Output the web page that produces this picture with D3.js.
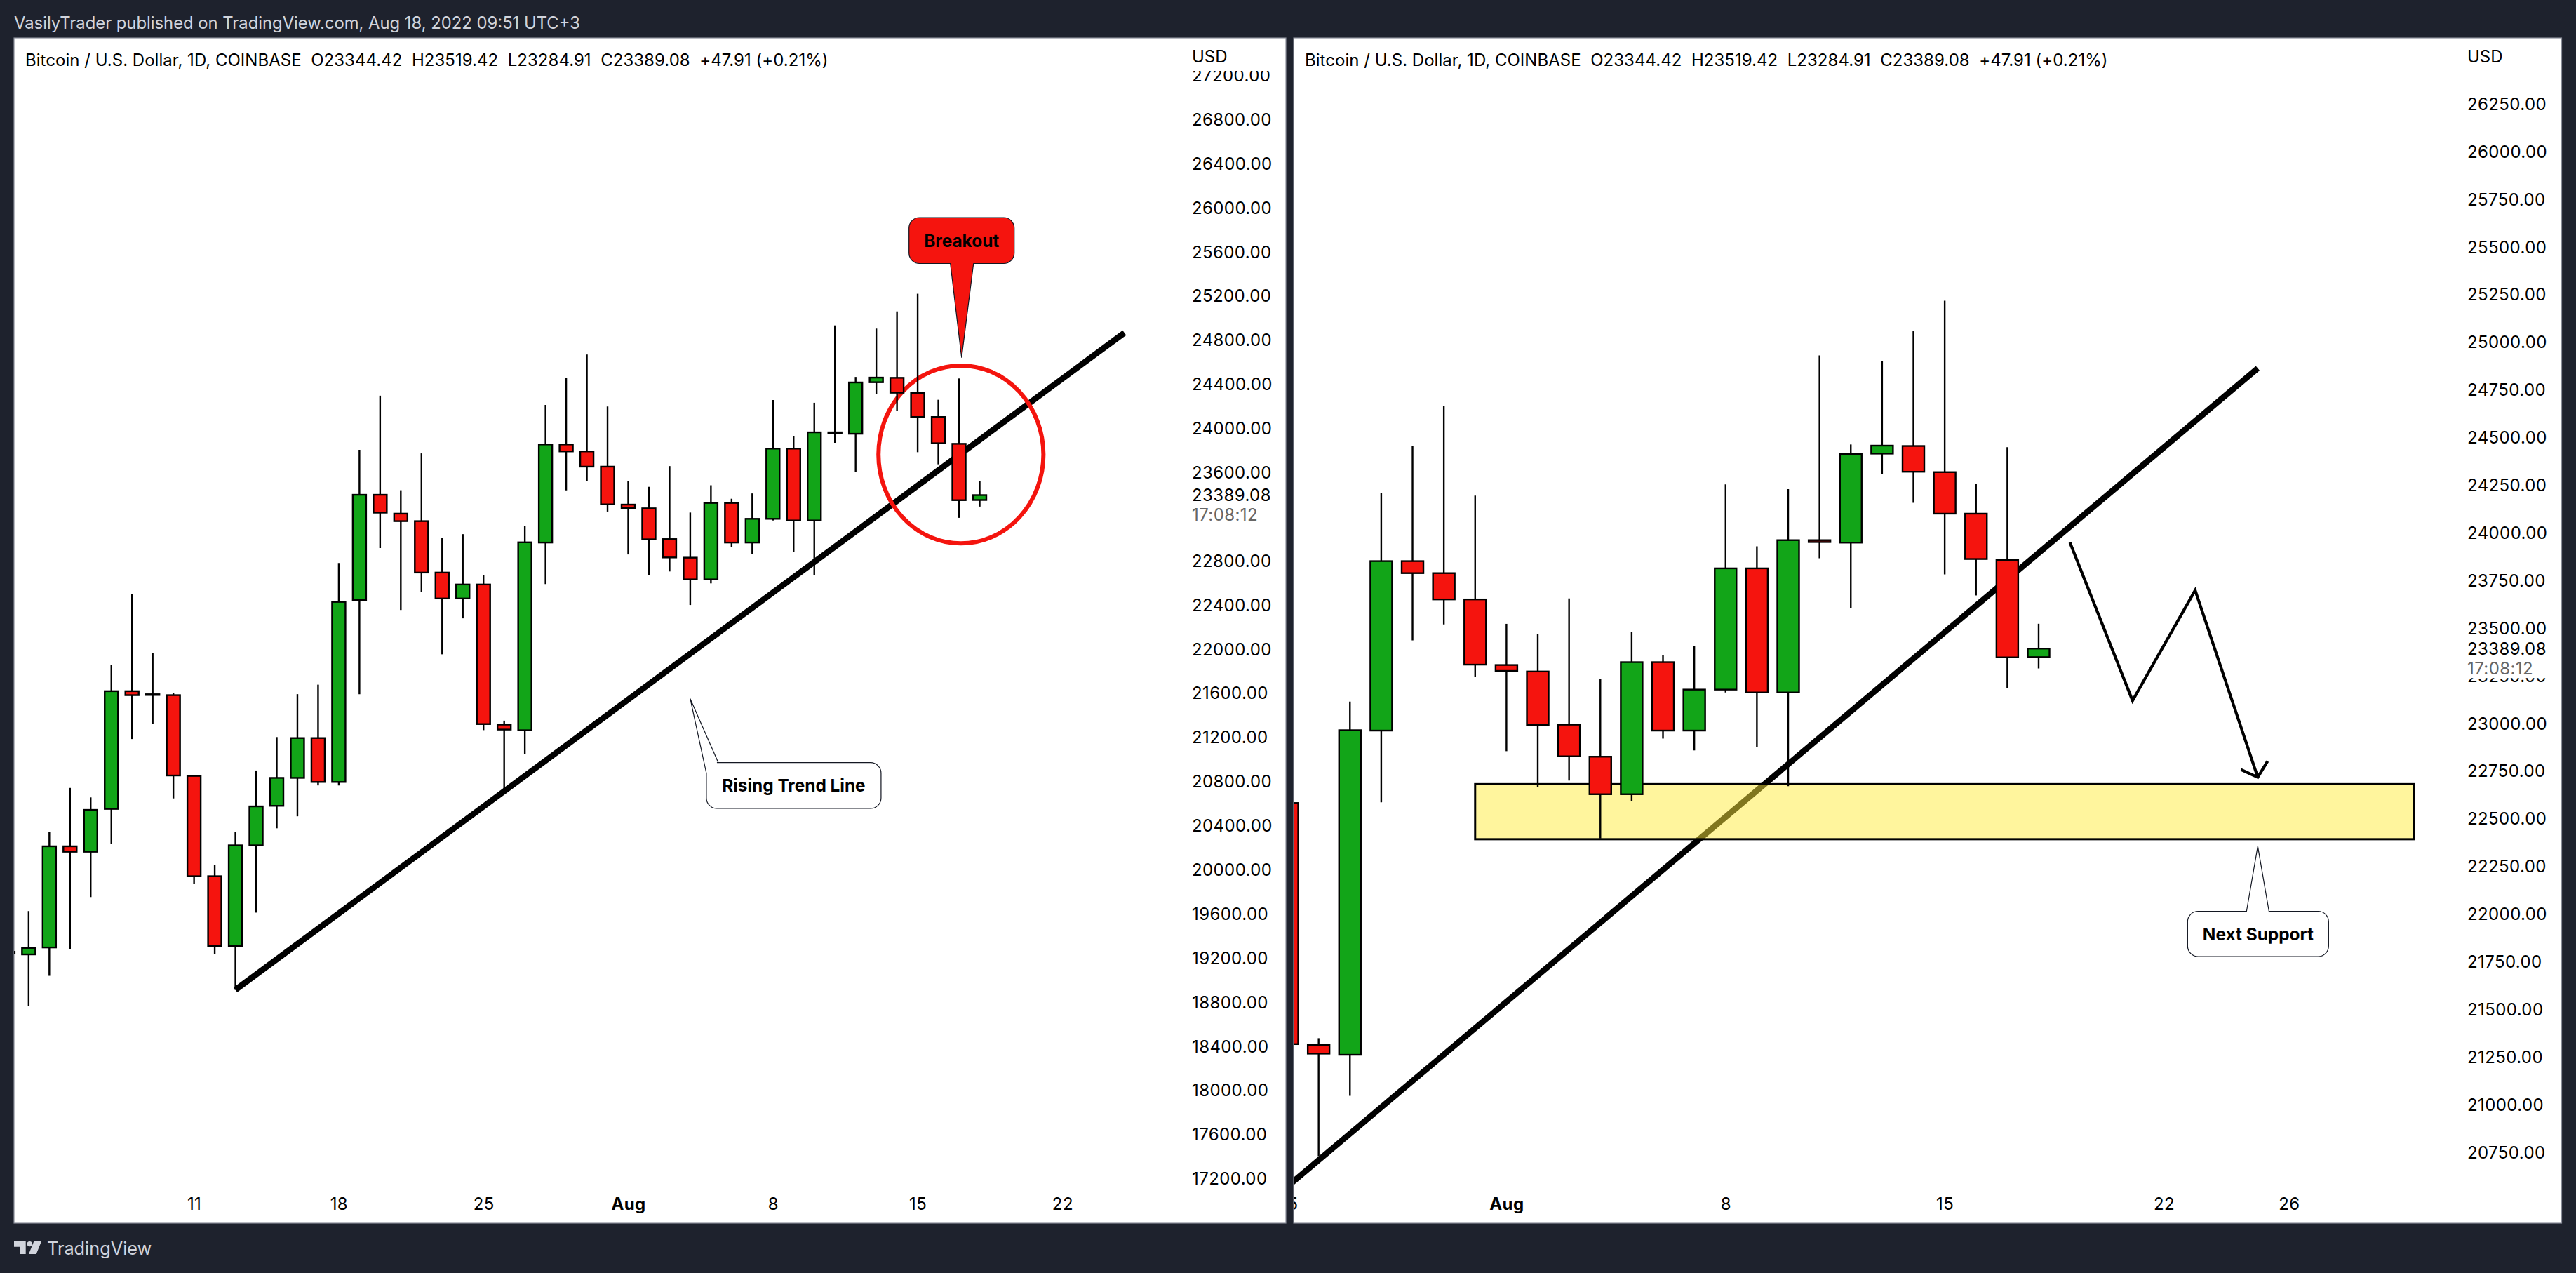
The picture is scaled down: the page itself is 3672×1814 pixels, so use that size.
<!DOCTYPE html>
<html lang="en-us">
    <head>
        <title>BTCUSD</title>
        <meta charset="UTF-8">
        <script src="https://d3js.org/d3.v7.min.js"></script>
        <style type="text/css">
            body { margin: 0; background: #1e222d; }
            svg { display: block; }
            text { font-family: Inter, "Noto Sans", sans-serif; }
            .axis .domain { display: none; }
            .axis text { font-size: 24px; fill: #000; font-family: Inter, sans-serif; letter-spacing: 0.4px; }
            .wick { stroke: #000; stroke-width: 2.4; }
            .body { stroke: #000; stroke-width: 2.4; }
        </style>
    </head>
    <body>
        <script>
            // daily bars
            var days = ["2022-07-02","2022-07-03","2022-07-04","2022-07-05","2022-07-06","2022-07-07","2022-07-08","2022-07-09","2022-07-10","2022-07-11","2022-07-12","2022-07-13","2022-07-14","2022-07-15","2022-07-16","2022-07-17","2022-07-18","2022-07-19","2022-07-20","2022-07-21","2022-07-22","2022-07-23","2022-07-24","2022-07-25","2022-07-26","2022-07-27","2022-07-28","2022-07-29","2022-07-30","2022-07-31","2022-08-01","2022-08-02","2022-08-03","2022-08-04","2022-08-05","2022-08-06","2022-08-07","2022-08-08","2022-08-09","2022-08-10","2022-08-11","2022-08-12","2022-08-13","2022-08-14","2022-08-15","2022-08-16","2022-08-17","2022-08-18"];
            var opens = [19250,19226,19289,20206,20157,20545,21612,21580,21576,20844,19935,19303,20215,20573,20826,21187,20789,22439,23392,23221,23153,22687,22452,22579,21309,21258,22959,23848,23785,23647,23303,23269,22990,22822,22625,23318,22959,23174,23810,23159,23958,23945,24412,24452,24315,24097,23854,23344.42];
            var highs = [19300,19619,20333,20735,20649,21851,22489,21960,21594,20848,20035,20333,20893,21196,21585,21671,22773,23800,24290,23433,23767,23004,23035,22665,21345,23111,24207,24450,24663,24192,23519,23464,23652,23231,23478,23356,23404,24251,23926,24226,24927,24460,24898,25054,25214,24253,24446,23519.42];
            var lows = [19000,18756,19032,19276,19746,20229,21178,21318,20640,19868,19230,18905,19605,20369,20478,20758,20758,21585,22909,22348,22511,21946,22272,21259,20726,21043,22583,23432,23516,23240,22851,22661,22697,22393,22589,22917,22855,23159,22872,22667,23863,23601,24304,24154,23778,23668,23183,23284.91];
            var closes = [19240,19285,20206,20157,20536,21612,21576,21584,20848,19935,19303,20215,20568,20826,21187,20789,22421,23392,23230,23153,22687,22452,22579,21314,21264,22961,23848,23785,23647,23305,23272,22988,22824,22625,23318,22959,23174,23810,23159,23958,23948,24410,24454,24317,24097,23859,23343,23389.08];

            // 23200 sits fully behind the last price plate, so it is left out
            var leftPriceTicks = d3.range(17200, 27201, 400).filter(function(v){ return v != 23200; });
            var rightPriceTicks = d3.range(20750, 26501, 250);
            var leftDateTicks = ["2022-07-11","2022-07-18","2022-07-25","2022-08-01","2022-08-08","2022-08-15","2022-08-22"];
            var rightDateTicks = ["2022-07-25","2022-08-01","2022-08-08","2022-08-15","2022-08-22","2022-08-26"];

            var lastPrice = "23389.08";
            var countdown = "17:08:12";
            var legendText = "Bitcoin / U.S. Dollar, 1D, COINBASE\u00a0\u00a0O23344.42\u00a0\u00a0H23519.42\u00a0\u00a0L23284.91\u00a0\u00a0C23389.08\u00a0\u00a0+47.91 (+0.21%)";

            // drawings, as [date, price]
            var trendLine = [["2022-07-13", 18905], ["2022-08-25T00:00", 24860]];
            var breakCircle = [["2022-08-13T02:30", 24563], ["2022-08-21T02:00", 22951]];
            var breakoutTip = ["2022-08-17T03:00", 24635];
            var risingTip = ["2022-08-04", 21543];
            var supportZone = [["2022-07-31", 22678], ["2022-08-30", 22389]];
            var pathDown = [["2022-08-19", 23946], ["2022-08-21", 23116], ["2022-08-23", 23695], ["2022-08-25", 22714]];
            var supportTip = ["2022-08-25", 22352];

            var parseDay = function(s){ return new Date(s.length > 10 ? s + "Z" : s + "T00:00Z"); };
            var bars = days.map(function(d, i){
                return {date: parseDay(d), o: opens[i], h: highs[i], l: lows[i], c: closes[i]};
            });

            var width = 3672, height = 1814;
            var svg = d3.select("body").append("svg").attr("width", width).attr("height", height);

            // header and footer on the dark frame
            svg.append("text").attr("x", 20).attr("y", 41)
                .attr("font-size", 23.8).attr("fill", "#d1d4dc")
                .text("VasilyTrader published on TradingView.com, Aug 18, 2022 09:51 UTC+3");

            var logo = svg.append("g").attr("fill", "#d1d4dc");
            logo.append("path").attr("d", "M20 1769H36.7V1787H28.3V1776.7H20Z");
            logo.append("circle").attr("cx", 42.3).attr("cy", 1772.6).attr("r", 3.7);
            logo.append("path").attr("d", "M48.3 1769H59L51.7 1787H41Z");
            logo.append("text").attr("x", 67).attr("y", 1788).attr("font-size", 25.3).text("TradingView");

            function callout(g, tip, box, base, label, fill) {
                // box is [x0, y0, x1, y1], base is where the pointer leaves the box outline
                var r = 15;
                var p = d3.path();
                p.moveTo(box[0] + r, box[1]);
                if (base.side == "top") {
                    p.lineTo(base.a, box[1]); p.lineTo(tip[0], tip[1]); p.lineTo(base.b, box[1]);
                }
                p.lineTo(box[2] - r, box[1]);
                p.arcTo(box[2], box[1], box[2], box[1] + r, r);
                p.lineTo(box[2], box[3] - r);
                p.arcTo(box[2], box[3], box[2] - r, box[3], r);
                if (base.side == "bottom") {
                    p.lineTo(base.b, box[3]); p.lineTo(tip[0], tip[1]); p.lineTo(base.a, box[3]);
                }
                p.lineTo(box[0] + r, box[3]);
                p.arcTo(box[0], box[3], box[0], box[3] - r, r);
                if (base.side == "corner") {
                    p.lineTo(box[0], base.a); p.lineTo(tip[0], tip[1]); p.lineTo(base.b, box[1]);
                } else {
                    p.lineTo(box[0], box[1] + r);
                    p.arcTo(box[0], box[1], box[0] + r, box[1], r);
                }
                p.closePath();
                g.append("path").attr("d", p.toString())
                    .attr("fill", fill).attr("stroke", "#131722").attr("stroke-width", 1.2);
                g.append("text")
                    .attr("x", (box[0] + box[2]) / 2).attr("y", (box[1] + box[3]) / 2)
                    .attr("dy", "0.36em").attr("text-anchor", "middle")
                    .attr("font-size", 24.4).attr("font-weight", 700).attr("fill", "#000")
                    .text(label);
            }

            function drawPanel(cfg) {
                var x = d3.scaleUtc()
                    .domain([parseDay("2022-08-01"), parseDay("2022-08-18")])
                    .range(cfg.xRange);
                var y = d3.scaleLinear().domain(cfg.priceDomain).range(cfg.yRange);
                var px = function(p){ return [x(parseDay(p[0])), y(p[1])]; };

                var box = cfg.box;
                var g = svg.append("g");
                g.append("rect").attr("x", box[0]).attr("y", box[1])
                    .attr("width", box[2] - box[0]).attr("height", box[3] - box[1])
                    .attr("fill", "#fff").attr("stroke", "#8a8e99").attr("stroke-width", 1.2);

                svg.append("clipPath").attr("id", cfg.id)
                    .append("rect").attr("x", box[0]).attr("y", box[1])
                    .attr("width", box[2] - box[0]).attr("height", box[3] - box[1]);
                var plot = g.append("g").attr("clip-path", "url(#" + cfg.id + ")");

                // price labels first, the white plates go over them
                plot.append("g").attr("class", "axis")
                    .attr("transform", "translate(" + cfg.axisX + ",1.5)")
                    .call(d3.axisRight(y).tickValues(cfg.priceTicks).tickSize(0).tickPadding(0)
                        .tickFormat(d3.format(".2f")));

                plot.append("rect").attr("x", cfg.axisX - 2).attr("y", box[1] + 1)
                    .attr("width", box[2] - cfg.axisX).attr("height", 46).attr("fill", "#fff");
                plot.append("rect").attr("x", cfg.axisX - 2).attr("y", y(+lastPrice) - 15)
                    .attr("width", box[2] - cfg.axisX).attr("height", 57).attr("fill", "#fff");

                var tagX = cfg.axisX;
                plot.append("text").attr("x", tagX).attr("y", 89).attr("font-size", 24).attr("fill", "#000").text("USD");
                plot.append("text").attr("x", tagX).attr("y", y(+lastPrice)).attr("dy", "0.36em")
                    .attr("font-size", 24).attr("letter-spacing", 0.4).attr("fill", "#000").text(lastPrice);
                plot.append("text").attr("x", tagX).attr("y", y(+lastPrice) + 28).attr("dy", "0.36em")
                    .attr("font-size", 24).attr("letter-spacing", 0.4).attr("fill", "#666").text(countdown);

                // time labels
                var timeAxis = plot.append("g").attr("class", "axis")
                    .attr("transform", "translate(0,1707)")
                    .call(d3.axisBottom(x).tickValues(cfg.dateTicks.map(parseDay)).tickSize(0).tickPadding(0)
                        .tickFormat(function(d){
                            return d.getUTCDate() == 1 ? "Aug" : d.getUTCDate();
                        }));
                timeAxis.selectAll("text").attr("font-weight", function(d){
                    return d.getUTCDate() == 1 ? 700 : 400;
                });

                // drawings sit under the candles
                var tl = trendLine.map(px);
                plot.append("line")
                    .attr("x1", tl[0][0]).attr("y1", tl[0][1]).attr("x2", tl[1][0]).attr("y2", tl[1][1])
                    .attr("stroke", "#000").attr("stroke-width", 8.5);

                if (cfg.id == "clipLeft") {
                    var c = breakCircle.map(px);
                    plot.append("ellipse")
                        .attr("cx", (c[0][0] + c[1][0]) / 2).attr("cy", (c[0][1] + c[1][1]) / 2)
                        .attr("rx", (c[1][0] - c[0][0]) / 2).attr("ry", (c[1][1] - c[0][1]) / 2)
                        .attr("fill", "none").attr("stroke", "#f4140e").attr("stroke-width", 6);
                } else {
                    var z = supportZone.map(px);
                    plot.append("rect")
                        .attr("x", z[0][0]).attr("y", z[0][1])
                        .attr("width", z[1][0] - z[0][0]).attr("height", z[1][1] - z[0][1])
                        .attr("fill", "rgba(255,235,59,0.5)").attr("stroke", "#000").attr("stroke-width", 3);
                }

                // candles
                var candle = plot.append("g").selectAll("g").data(bars).enter().append("g");
                candle.append("line").attr("class", "wick")
                    .attr("x1", function(d){ return x(d.date); })
                    .attr("x2", function(d){ return x(d.date); })
                    .attr("y1", function(d){ return y(d.h); })
                    .attr("y2", function(d){ return y(d.l); });
                candle.append("rect").attr("class", "body")
                    .attr("x", function(d){ return x(d.date) - cfg.bodyWidth / 2; })
                    .attr("width", cfg.bodyWidth)
                    .attr("y", function(d){ return y(Math.max(d.o, d.c)); })
                    .attr("height", function(d){ return Math.max(1, Math.abs(y(d.o) - y(d.c))); })
                    .attr("fill", function(d){ return d.c >= d.o ? "#12a518" : "#f5140e"; });

                // legend line
                g.append("text").attr("x", cfg.legendX).attr("y", 94)
                    .attr("font-size", 24).attr("letter-spacing", 0.03).attr("fill", "#000").text(legendText);

                return {plot: plot, px: px};
            }

            var left = drawPanel({
                id: "clipLeft",
                box: [20, 54, 1833, 1743],
                xRange: [895.5, 1396.5],
                priceDomain: [26000, 22400],
                yRange: [295, 861],
                axisX: 1699,
                priceTicks: leftPriceTicks,
                dateTicks: leftDateTicks,
                bodyWidth: 19,
                legendX: 36
            });

            var right = drawPanel({
                id: "clipRight",
                box: [1844, 54, 3651.5, 1743],
                xRange: [2147.4, 2906],
                priceDomain: [26250, 20750],
                yRange: [147.2, 1641],
                axisX: 3517,
                priceTicks: rightPriceTicks,
                dateTicks: rightDateTicks,
                bodyWidth: 31,
                legendX: 1860
            });

            // left panel callouts
            var bTip = left.px(breakoutTip);
            callout(left.plot, bTip, [bTip[0] - 75, 310, bTip[0] + 75, 375.5],
                {side: "bottom", a: bTip[0] - 16, b: bTip[0] + 17}, "Breakout", "#f5140e");
            var rTip = left.px(risingTip);
            callout(left.plot, rTip, [rTip[0] + 23, 1086.7, rTip[0] + 272, 1152],
                {side: "corner", a: 1101.7, b: rTip[0] + 40}, "Rising Trend Line", "#fff");

            // right panel projection and callout
            var pts = pathDown.map(right.px);
            var end = pts[pts.length - 1];
            right.plot.append("path")
                .attr("d", d3.line()(pts))
                .attr("fill", "none").attr("stroke", "#000").attr("stroke-width", 4.2);
            right.plot.append("path")
                .attr("d", d3.line()([[end[0] - 24, end[1] - 11], end, [end[0] + 14, end[1] - 23]]))
                .attr("fill", "none").attr("stroke", "#000").attr("stroke-width", 4.2);
            var sTip = right.px(supportTip);
            callout(right.plot, sTip, [sTip[0] - 100, 1298.5, sTip[0] + 101, 1363],
                {side: "top", a: sTip[0] - 16, b: sTip[0] + 16}, "Next Support", "#fff");
        </script>
    </body>
</html>
